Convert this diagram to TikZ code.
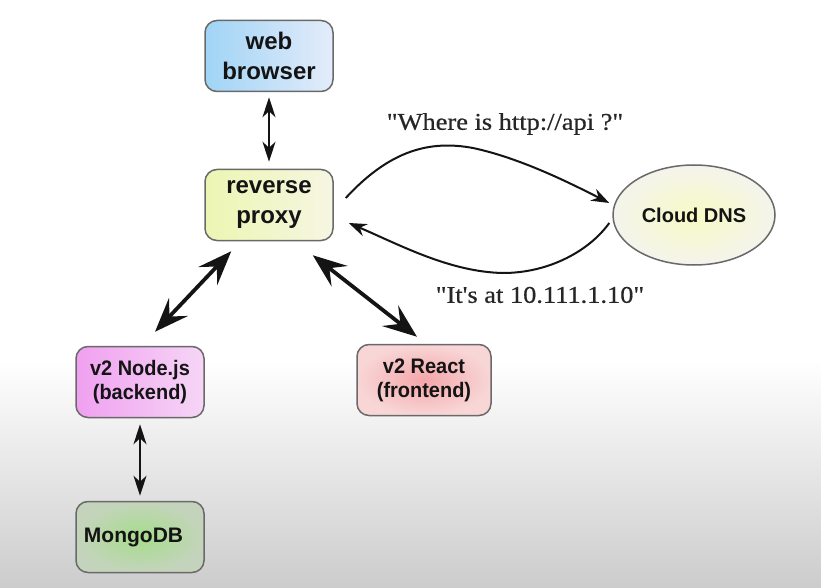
\documentclass[tikz,border=0pt]{standalone}
\usepackage{fontspec}
\setmainfont{Liberation Sans}
\newfontfamily\narrowsans[FakeStretch=0.95]{Liberation Sans}
\newfontfamily\serifq[FakeStretch=1.1,Ligatures=TeXOff,FakeBold=0.6]{Liberation Serif}
\usetikzlibrary{arrows.meta,shapes.geometric}
\definecolor{boxborder}{RGB}{105,105,105}
\definecolor{wbL}{RGB}{160,212,245}
\definecolor{wbR}{RGB}{228,236,250}
\definecolor{rpL}{RGB}{236,246,178}
\definecolor{rpR}{RGB}{246,246,226}
\definecolor{njL}{RGB}{240,160,240}
\definecolor{njR}{RGB}{246,214,246}
\definecolor{reIn}{RGB}{244,166,170}
\definecolor{reOut}{RGB}{248,214,214}
\definecolor{mgIn}{RGB}{166,220,140}
\definecolor{mgOut}{RGB}{196,212,188}
\definecolor{dnsIn}{RGB}{246,250,196}
\definecolor{dnsOut}{RGB}{244,244,236}
\definecolor{txt}{RGB}{20,20,20}
\tikzset{
  box/.style={draw=boxborder, line width=1.5pt, rounded corners=12pt,
    minimum width=128pt, minimum height=71pt, align=center, text=txt},
  bigfont/.style={font=\bfseries\fontsize{24}{30}\selectfont},
  midfont/.style={font=\narrowsans\bfseries\fontsize{21}{24}\selectfont},
  smallarrow/.style={line width=1.8pt, draw=txt,
    {Stealth[length=20pt,width=13pt,inset=6pt]}-{Stealth[length=20pt,width=13pt,inset=6pt]}},
  bigarrow/.style={line width=3.8pt, draw=txt,
    {Stealth[length=34pt,width=26pt,inset=13pt]}-{Stealth[length=34pt,width=26pt,inset=13pt]}},
  curvearrow/.style={line width=2pt, draw=txt,
    -{Stealth[length=18pt,width=13pt,inset=6pt]}},
  quote/.style={font=\serifq\fontsize{24}{28}\selectfont, text=black!85}
}
\begin{document}
\begin{tikzpicture}[x=1pt,y=-1pt]
\useasboundingbox (0,0) rectangle (821,588);
\fill[white] (0,0) rectangle (821,588);
\shade[top color=white, bottom color=gray!40] (0,360) rectangle (821,588);

\node[box, bigfont, left color=wbL, right color=wbR] (browser) at (269,56) {web\\browser};
\node[box, bigfont, left color=rpL, right color=rpR] (proxy) at (269,205) {reverse\\proxy};
\node[draw=boxborder, line width=1.5pt, ellipse, minimum width=162pt, minimum height=100pt,
      inner color=dnsIn, outer color=dnsOut, text=txt,
      font=\bfseries\fontsize{20}{24}\selectfont] (dns) at (694,215) {Cloud DNS};
\node[box, midfont, left color=njL, right color=njR] (node) at (140,382) {v2 Node.js\\(backend)};
\node[box, midfont, minimum width=134pt, inner color=reIn, outer color=reOut] (react) at (424,380) {v2 React\\(frontend)};
\node[box, font=\bfseries\fontsize{21}{24}\selectfont, inner color=mgIn, outer color=mgOut] (mongo) at (140,537) {MongoDB\hspace*{13pt}};

\draw[smallarrow, shorten <=5pt, shorten >=7pt] (browser.south) -- (proxy.north);
\draw[smallarrow, shorten <=6pt, shorten >=5pt] (node.south) -- (mongo.north);
\draw[bigarrow] ([shift={(27,10)}]proxy.south west) -- ([shift={(15,-14)}]node.north);
\draw[bigarrow] ([shift={(-21,14)}]proxy.south east) -- ([shift={(-7,-7)}]react.north);

\draw[curvearrow] ([shift={(12,-7)}]proxy.east)
  .. controls (390,150) and (430,140) .. (473,148)
  .. controls (520,158) and (570,183) .. ([shift={(-3,-12)}]dns.west);
\draw[curvearrow] ([shift={(-3,8)}]dns.west)
  .. controls (590,250) and (550,273) .. (503,273)
  .. controls (450,272) and (400,245) .. ([shift={(15,18)}]proxy.east);

\node[quote] (q1) at (505,124) {"Where is http://api ?"};
\node[quote] (q2) at (540,295) {"It's at 10.111.1.10"};
\end{tikzpicture}
\end{document}
